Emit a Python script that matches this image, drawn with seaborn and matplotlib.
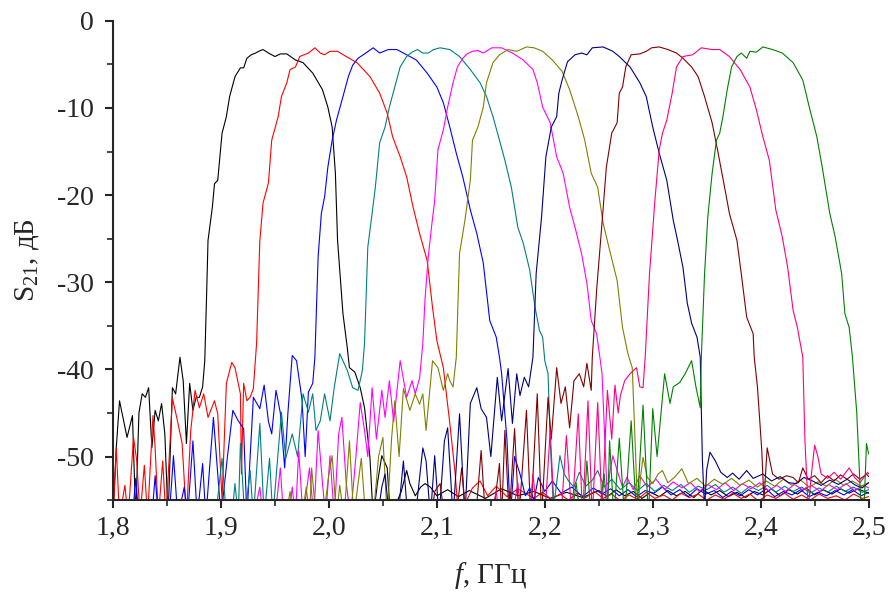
import pandas as pd
import matplotlib
matplotlib.use("Agg")
import matplotlib.pyplot as plt
import seaborn as sns
from matplotlib.ticker import MultipleLocator

# Measured S21 curves of ten tunable filter states (f in GHz, S21 in dB)
black_f = [1.800, 1.803, 1.806, 1.810, 1.813, 1.818, 1.821, 1.824, 1.827, 1.830, 1.833, 1.836, 1.839,
           1.842, 1.845, 1.848, 1.851, 1.855, 1.858, 1.862, 1.865, 1.868, 1.871, 1.874, 1.877, 1.880,
           1.883, 1.885, 1.887, 1.888, 1.892, 1.894, 1.897, 1.901, 1.905, 1.908, 1.913, 1.918, 1.921,
           1.924, 1.928, 1.932, 1.935, 1.939, 1.944, 1.950, 1.955, 1.961, 1.969, 1.976, 1.985, 1.994,
           1.999, 2.003, 2.006, 2.008, 2.013, 2.017, 2.019, 2.024, 2.029, 2.033, 2.038, 2.041, 2.045,
           2.049, 2.054, 2.057, 2.062, 2.067, 2.072, 2.075, 2.080, 2.085, 2.089, 2.094, 2.100, 2.110,
           2.120, 2.130, 2.145, 2.160, 2.175, 2.190, 2.205, 2.220, 2.235,
           2.250, 2.258, 2.266, 2.274, 2.282, 2.290, 2.298, 2.306, 2.314, 2.322, 2.330, 2.338, 2.346,
           2.354, 2.362, 2.370, 2.378, 2.386, 2.394, 2.402, 2.410, 2.418, 2.426, 2.434, 2.442, 2.450,
           2.458, 2.466, 2.474, 2.482, 2.490, 2.500]
black_db = [-57, -49, -43.6, -46, -47.8, -45.3, -57, -45, -42.8, -43.2, -42.1, -49, -44.7,
            -45.9, -43.9, -47.4, -57, -42.1, -42.8, -38.6, -41.3, -48.5, -41.6, -44.7, -43.2, -43.2,
            -42, -39, -30, -25.2, -21.4, -18.7, -18.3, -12.9, -11, -8.7, -6.4, -5.4, -5.4,
            -4.3, -3.9, -3.7, -3.5, -3.3, -3.7, -4.1, -3.8, -3.8, -4.5, -4.8, -6.0, -7.9,
            -9.9, -12.2, -17.5, -25.2, -33.6, -37.5, -39.8, -40.3, -42.1, -44.4, -50.1, -57, -53,
            -49.9, -51.3, -57, -55.5, -54, -51.6, -53.1, -54.5, -53.5, -53.1, -53.5, -54.5, -53.8,
            -54.6, -53.9, -54.8, -53.7, -54.5, -54.0, -54.8, -54.1, -54.7,
            -53.9, -54.6, -53.8, -54.5, -54.0, -54.8, -54.1, -54.6, -53.9, -54.5, -54.0, -54.7, -53.8,
            -54.4, -53.9, -54.6, -54.1, -54.7, -54.0, -54.4, -53.7, -54.5, -53.8, -54.3, -53.6, -54.4,
            -53.8, -54.3, -53.7, -54.2, -53.7, -54.2]

red_f = [1.800, 1.803, 1.806, 1.811, 1.814, 1.819, 1.822, 1.825, 1.829, 1.832, 1.837, 1.839, 1.842,
         1.846, 1.849, 1.855, 1.859, 1.864, 1.868, 1.872, 1.876, 1.880, 1.884, 1.888, 1.894, 1.897,
         1.901, 1.905, 1.910, 1.913, 1.918, 1.919, 1.921, 1.924, 1.927, 1.930, 1.933, 1.936, 1.939,
         1.944, 1.947, 1.953, 1.956, 1.961, 1.964, 1.969, 1.973, 1.977, 1.981, 1.987, 1.992, 1.996,
         2.001, 2.008, 2.016, 2.026, 2.038, 2.047, 2.054, 2.059, 2.066, 2.072, 2.078, 2.084, 2.091,
         2.096, 2.100, 2.106, 2.112, 2.117, 2.120, 2.126, 2.133, 2.140, 2.147, 2.155, 2.165, 2.175,
         2.190, 2.198, 2.206, 2.214, 2.222, 2.230, 2.238, 2.246, 2.254, 2.262, 2.270, 2.278, 2.286,
         2.294, 2.302, 2.310, 2.318, 2.326, 2.334, 2.342, 2.350, 2.358, 2.366, 2.374, 2.382, 2.390,
         2.398, 2.406, 2.414, 2.422, 2.430, 2.438, 2.446, 2.454, 2.462, 2.470, 2.478, 2.486, 2.494, 2.500]
red_db = [-57, -49, -57, -53.3, -57, -47.8, -50.5, -57, -51, -57, -45.3, -49, -57,
          -50.5, -57, -43.3, -45.5, -48.5, -57, -47, -42.4, -44.4, -42.8, -45.5, -43.6, -45.1,
          -55, -41.6, -39.2, -39.8, -42.8, -52, -41.6, -43.6, -43.2, -42.2, -37, -25.2, -20.9,
          -18.6, -13.7, -11, -8.7, -7.1, -5.6, -5.3, -4.1, -3.9, -3.7, -3.1, -3.7, -3.9,
          -3.5, -3.5, -4.1, -4.8, -6.4, -8.3, -10.6, -13.3, -15.6, -17.9, -21.4, -24.4, -27.5,
          -32.9, -36.7, -39.8, -46.2, -52, -57, -55.5, -53.6, -52.8, -54.5, -53.4, -54.6, -53.7,
          -54.8, -54.1, -54.9, -54.3, -55.0, -54.2, -54.7, -54.0, -54.8, -54.3, -55.1, -54.4, -54.9,
          -54.1, -54.8, -54.4, -55.0, -54.2, -54.7, -54.3, -55.0, -54.4, -54.9, -54.2, -54.8, -54.3,
          -55.1, -54.4, -54.8, -54.2, -54.9, -54.4, -55.0, -54.3, -54.8, -54.5, -55.0, -54.3, -54.8, -54.6]

blue_f = [1.800, 1.818, 1.821, 1.824, 1.836, 1.839, 1.842, 1.852, 1.856, 1.860, 1.866, 1.869, 1.874,
          1.878, 1.883, 1.886, 1.893, 1.897, 1.900, 1.906, 1.911, 1.916, 1.921, 1.924, 1.930, 1.936,
          1.940, 1.944, 1.947, 1.951, 1.955, 1.959, 1.962, 1.966, 1.970, 1.975, 1.978, 1.981, 1.985,
          1.987, 1.990, 1.993, 1.996, 1.999, 2.003, 2.007, 2.013, 2.018, 2.022, 2.027, 2.033, 2.041,
          2.047, 2.055, 2.063, 2.072, 2.081, 2.091, 2.100, 2.106, 2.112, 2.118, 2.124, 2.131, 2.137,
          2.143, 2.149, 2.155, 2.158, 2.160, 2.165, 2.168, 2.172, 2.177, 2.182, 2.186, 2.190, 2.194,
          2.200, 2.207, 2.215, 2.225, 2.235,
          2.245, 2.253, 2.261, 2.269, 2.277, 2.285, 2.293, 2.301, 2.309, 2.317, 2.325, 2.333, 2.341,
          2.349, 2.357, 2.365, 2.373, 2.381, 2.389, 2.397, 2.405, 2.413, 2.421, 2.429, 2.437, 2.445,
          2.453, 2.461, 2.469, 2.477, 2.485, 2.493, 2.500]
blue_db = [-57, -57, -52.5, -57, -57, -52.2, -57, -57, -49.9, -57, -53.5, -57, -48.2,
           -57, -50.8, -57, -45.5, -52, -57, -50, -44.7, -45.9, -46.8, -57, -43.2, -44.5,
           -41.8, -46, -47.4, -42.4, -45, -51.3, -45, -38.4, -39, -43.4, -50, -42.6, -41.6,
           -38.6, -27.1, -22.1, -20.2, -16.8, -13.7, -11.4, -8.7, -6.4, -5.1, -4.3, -3.8, -3.1,
           -3.7, -3.3, -3.3, -3.9, -4.5, -6.0, -7.6, -9.4, -12.2, -15.2, -17.9, -21.7, -24.4,
           -27.8, -34.4, -36.3, -38.6, -40.5, -48.2, -57, -50, -52, -54.5, -53.6, -55, -52.4,
           -54, -52.8, -54.2, -53.5, -54.6,
           -53.6, -54.3, -53.7, -54.5, -53.8, -54.6, -53.9, -54.2, -53.5, -54.4, -53.8, -54.6, -53.7,
           -54.3, -53.9, -54.7, -54.0, -54.5, -53.8, -54.4, -53.7, -54.6, -54.0, -54.4, -53.8, -54.6,
           -54.1, -54.5, -53.9, -54.4, -53.8, -54.5, -54.1]

teal_f = [1.800, 1.895, 1.901, 1.905, 1.910, 1.913, 1.916, 1.918, 1.922, 1.927, 1.930, 1.936, 1.940,
          1.945, 1.948, 1.956, 1.960, 1.966, 1.971, 1.976, 1.981, 1.985, 1.988, 1.992, 1.996, 2.001,
          2.005, 2.010, 2.017, 2.022, 2.027, 2.031, 2.033, 2.036, 2.040, 2.043, 2.047, 2.052, 2.056,
          2.061, 2.066, 2.072, 2.077, 2.082, 2.087, 2.092, 2.097, 2.103, 2.112, 2.121, 2.131, 2.140,
          2.146, 2.152, 2.158, 2.163, 2.169, 2.175, 2.180, 2.186, 2.191, 2.195, 2.198, 2.200, 2.203,
          2.205, 2.208, 2.211, 2.214, 2.218, 2.222, 2.227, 2.232, 2.238, 2.244, 2.249, 2.255,
          2.262, 2.270, 2.278, 2.286, 2.294, 2.302, 2.310, 2.318, 2.326, 2.334, 2.342, 2.350, 2.358,
          2.366, 2.374, 2.382, 2.390, 2.398, 2.406, 2.414, 2.422, 2.430, 2.438, 2.446, 2.454, 2.462,
          2.470, 2.478, 2.486, 2.494, 2.500]
teal_db = [-57, -57, -50.2, -57, -57, -53.1, -57, -48.5, -57, -51.6, -57, -46.2, -57,
           -50.2, -57, -44.9, -50.2, -47.4, -50, -42.8, -44.9, -42.8, -47, -45.9, -42.8, -45.9,
           -42, -38.2, -40.1, -42.1, -42.4, -40.1, -37, -26, -22.1, -19.1, -14, -12.2, -9.9,
           -7.6, -5.3, -4.1, -3.6, -3.3, -3.7, -3.7, -3.3, -3.1, -3.3, -4.1, -5.6, -7.1,
           -8.7, -11, -13.7, -16, -19.1, -23.7, -25.5, -28.6, -32.9, -35.5, -36.3, -39, -40.5,
           -48.2, -56, -53, -49.9, -52, -52.8, -53.5, -51.8, -53.4, -52.7, -51.6, -53.5,
           -52.6, -53.8, -53.0, -53.9, -53.1, -54.0, -53.3, -53.9, -53.2, -54.1, -53.4, -53.8, -53.2,
           -54.1, -53.5, -54.2, -53.4, -53.9, -53.3, -54.1, -53.4, -54.0, -53.5, -54.2, -53.6, -54.1,
           -53.4, -54.0, -53.5, -54.1, -53.8]

magenta_f = [1.800, 1.930, 1.936, 1.939, 1.950, 1.955, 1.958, 1.963, 1.966, 1.969, 1.972, 1.976, 1.982,
             1.986, 1.990, 1.994, 1.997, 2.001, 2.005, 2.009, 2.012, 2.016, 2.020, 2.025, 2.029, 2.033,
             2.036, 2.040, 2.044, 2.049, 2.052, 2.056, 2.060, 2.066, 2.072, 2.077, 2.080, 2.084, 2.087,
             2.089, 2.092, 2.095, 2.098, 2.101, 2.106, 2.110, 2.115, 2.119, 2.124, 2.128, 2.133, 2.138,
             2.143, 2.151, 2.160, 2.170, 2.180, 2.189, 2.193, 2.198, 2.205, 2.211, 2.217, 2.223, 2.228,
             2.234, 2.239, 2.243, 2.248, 2.251, 2.253, 2.256, 2.258, 2.260, 2.263, 2.268, 2.272, 2.276,
             2.282, 2.288, 2.295,
             2.303, 2.311, 2.319, 2.327, 2.335, 2.343, 2.351, 2.359, 2.367, 2.375, 2.383, 2.391, 2.399,
             2.407, 2.415, 2.423, 2.431, 2.439, 2.447, 2.455, 2.463, 2.471, 2.479, 2.487, 2.495, 2.500]
magenta_db = [-57, -57, -53.5, -57, -57, -51.3, -57, -57, -53.5, -57, -49.3, -57, -51.3,
              -57, -47, -53, -57, -49.9, -57, -47.4, -45.5, -53, -57, -50, -43.8, -47,
              -50, -42.1, -48, -42.4, -45.5, -41.3, -46, -39, -43.2, -41.3, -42.8, -41, -37,
              -32, -27.1, -23.7, -20.6, -14.8, -12.5, -9.9, -7.1, -5.3, -4.3, -3.8, -3.5, -3.4,
              -3.7, -3.1, -3.1, -3.7, -4.5, -5.6, -7.1, -9.9, -11.7, -15.6, -17.5, -21.4, -23.7,
              -26.7, -30.1, -34.4, -35.9, -38.6, -40.5, -49.3, -55, -52, -49.9, -52, -53.5, -52.4,
              -53.8, -52.2, -53.5,
              -52.6, -53.8, -52.9, -53.6, -53.0, -54.0, -53.2, -53.8, -53.0, -53.9, -53.1, -53.7, -53.0,
              -53.9, -53.3, -54.0, -53.2, -53.8, -53.3, -54.0, -53.2, -53.8, -53.1, -53.9, -53.3, -53.6]

olive_f = [1.800, 1.960, 1.964, 1.967, 1.975, 1.979, 1.982, 1.984, 1.988, 1.995, 2.000, 2.003, 2.007,
           2.010, 2.014, 2.019, 2.023, 2.030, 2.034, 2.041, 2.046, 2.050, 2.054, 2.058, 2.061, 2.065,
           2.069, 2.075, 2.080, 2.084, 2.087, 2.090, 2.096, 2.101, 2.106, 2.110, 2.112, 2.115, 2.118,
           2.121, 2.126, 2.131, 2.133, 2.138, 2.143, 2.146, 2.152, 2.158, 2.166, 2.174, 2.183, 2.190,
           2.198, 2.207, 2.216, 2.223, 2.231, 2.237, 2.243, 2.249, 2.254, 2.260, 2.267, 2.272, 2.277,
           2.281, 2.283, 2.286, 2.289, 2.291, 2.295, 2.300, 2.305, 2.309, 2.314, 2.320, 2.327,
           2.333, 2.341, 2.349, 2.357, 2.365, 2.373, 2.381, 2.389, 2.397, 2.405, 2.413, 2.421, 2.429,
           2.437, 2.445, 2.453, 2.461, 2.469, 2.477, 2.485, 2.493, 2.500]
olive_db = [-57, -57, -54, -57, -57, -53.5, -57, -51.3, -57, -57, -52, -49.9, -57,
            -53.3, -57, -48.2, -57, -50.2, -57, -57, -50, -47.8, -57, -48, -43.6, -50,
            -42.2, -44.7, -42.8, -44, -42.8, -47, -39, -39.8, -42.4, -40.5, -41.3, -42, -38.6,
            -26.7, -22.9, -18.3, -13.7, -12.2, -9.9, -7.1, -4.8, -3.9, -3.3, -3.5, -3.0, -3.1,
            -3.5, -4.5, -5.8, -7.9, -11, -13.7, -17.5, -19.1, -23.2, -26.3, -29.8, -35.2, -38.2,
            -39.8, -46.2, -56, -52, -50.1, -52.4, -53.1, -52, -51.6, -53, -52.4, -51.4,
            -53.1, -52.5, -53.4, -52.6, -53.2, -52.5, -53.3, -52.7, -53.5, -52.8, -53.4, -52.6, -53.3,
            -52.7, -53.5, -52.9, -53.4, -52.6, -53.3, -52.8, -53.4, -53.0]

navy_f = [1.800, 2.045, 2.049, 2.052, 2.056, 2.064, 2.069, 2.073, 2.080, 2.087, 2.090, 2.094, 2.098,
          2.102, 2.107, 2.110, 2.115, 2.121, 2.126, 2.131, 2.137, 2.141, 2.146, 2.150, 2.156, 2.160,
          2.166, 2.170, 2.174, 2.177, 2.181, 2.185, 2.189, 2.192, 2.197, 2.201, 2.206, 2.211, 2.213,
          2.216, 2.221, 2.228, 2.234, 2.239, 2.244, 2.254, 2.263, 2.269, 2.279, 2.288, 2.294, 2.300,
          2.306, 2.313, 2.319, 2.323, 2.328, 2.332, 2.336, 2.341, 2.344, 2.346, 2.348, 2.350, 2.353,
          2.358, 2.363, 2.369, 2.374, 2.380, 2.387, 2.393, 2.402, 2.410, 2.418, 2.426, 2.433, 2.440,
          2.448, 2.456, 2.464, 2.472, 2.480, 2.488, 2.494, 2.500]
navy_db = [-57, -57, -53.5, -52, -57, -57, -50.5, -57, -57, -49, -50.5, -57, -49.9,
           -57, -48.2, -46.7, -57, -45.1, -57, -43.9, -42.1, -44.5, -45.5, -50, -40.9, -45.9,
           -39.9, -46.2, -40.5, -43, -40.9, -42, -38.6, -29, -22.5, -15.6, -12.2, -11, -8.3,
           -6.8, -4.7, -3.9, -3.7, -3.9, -3.1, -3.0, -3.5, -4.1, -5.3, -7.1, -8.7, -12.2,
           -15.2, -18.3, -22.9, -25.2, -28.3, -32.4, -34.7, -36.3, -38.6, -50.5, -56, -51.5, -49.5,
           -50.5, -51.8, -52.4, -51.9, -52.6, -51.6, -52.5, -52, -52.8, -52.3, -53.0, -53.1, -52.4,
           -52.8, -53.3, -52.7, -53.2, -52.6, -53.3, -53.6, -53.0]

wine_f = [1.800, 2.095, 2.098, 2.103, 2.107, 2.118, 2.123, 2.127, 2.136, 2.141, 2.145, 2.152, 2.158,
          2.160, 2.163, 2.167, 2.172, 2.176, 2.183, 2.187, 2.193, 2.197, 2.203, 2.206, 2.211, 2.215,
          2.219, 2.223, 2.227, 2.232, 2.236, 2.239, 2.243, 2.244, 2.248, 2.253, 2.257, 2.262, 2.267,
          2.269, 2.272, 2.275, 2.280, 2.288, 2.294, 2.299, 2.306, 2.314, 2.322, 2.328, 2.336, 2.342,
          2.348, 2.355, 2.360, 2.367, 2.371, 2.378, 2.382, 2.387, 2.393, 2.394, 2.397, 2.401, 2.403,
          2.406, 2.411, 2.417, 2.424, 2.430, 2.435, 2.439, 2.444, 2.450, 2.456, 2.462, 2.468, 2.474,
          2.480, 2.486, 2.492, 2.498, 2.500]
wine_db = [-57, -57, -54, -53.1, -57, -57, -51.3, -57, -57, -49.3, -57, -57, -50.8,
           -57, -47, -57, -46.8, -57, -44.7, -57, -42.8, -57, -43.2, -48, -39.8, -43.9,
           -42, -46.7, -41.3, -40.5, -42, -39.3, -42.4, -38.6, -30.9, -23.2, -16.8, -12.9, -11.7,
           -8.3, -7.6, -5.3, -3.9, -3.8, -3.5, -3.1, -3.0, -3.3, -3.7, -4.3, -5.3, -6.4,
           -8.7, -11.7, -14.8, -19.4, -22.1, -25.2, -29, -34, -35.9, -38.6, -42, -49.3, -55,
           -49, -52, -52.6, -52.2, -52.4, -53, -51.3, -52.6, -52.2, -53, -52.2, -52.8, -52.1,
           -52.6, -52.0, -52.6, -52.0, -52.3]

pink_f = [1.800, 2.150, 2.155, 2.158, 2.170, 2.175, 2.178, 2.186, 2.189, 2.193, 2.200, 2.205, 2.209,
          2.215, 2.220, 2.225, 2.231, 2.235, 2.240, 2.244, 2.249, 2.253, 2.258, 2.262, 2.265, 2.268,
          2.270, 2.274, 2.279, 2.285, 2.288, 2.291, 2.293, 2.297, 2.302, 2.306, 2.309, 2.313, 2.318,
          2.322, 2.328, 2.337, 2.345, 2.355, 2.362, 2.371, 2.381, 2.390, 2.396, 2.402, 2.408, 2.414,
          2.420, 2.425, 2.430, 2.434, 2.439, 2.441, 2.444, 2.447, 2.450, 2.453, 2.456, 2.462, 2.468,
          2.474, 2.482, 2.487, 2.492, 2.499, 2.500]
pink_db = [-57, -57, -54, -57, -57, -53, -57, -57, -52, -57, -57, -47, -57,
           -57, -47.6, -57, -45.1, -57, -43.6, -57, -43.8, -56, -42.4, -48, -41.8, -45,
           -43, -41.3, -40.5, -39.8, -42, -42.1, -38.6, -29, -20.6, -14.8, -12.9, -11.4, -8.3,
           -5.3, -4.1, -3.9, -3.1, -3.3, -3.3, -4.1, -5.6, -7.6, -10.2, -13.3, -16, -21.7,
           -24.8, -28.3, -33.2, -35.2, -38.6, -48.2, -56, -52, -48.7, -50, -52, -52.5, -51.8,
           -52.6, -51.3, -52.4, -53, -51.8, -52]

green_f = [1.800, 2.225, 2.229, 2.233, 2.236, 2.239, 2.243, 2.250, 2.255, 2.258, 2.260, 2.264, 2.269,
           2.274, 2.280, 2.285, 2.291, 2.296, 2.300, 2.304, 2.311, 2.316, 2.319, 2.325, 2.330, 2.336,
           2.340, 2.344, 2.345, 2.348, 2.351, 2.355, 2.359, 2.362, 2.365, 2.369, 2.373, 2.378, 2.382,
           2.387, 2.390, 2.396, 2.402, 2.411, 2.420, 2.430, 2.439, 2.445, 2.452, 2.457, 2.464, 2.469,
           2.475, 2.478, 2.482, 2.485, 2.489, 2.493, 2.496, 2.498, 2.500]
green_db = [-57, -57, -53, -57, -57, -50.5, -57, -57, -52, -57, -48.2, -57, -47.9,
            -57, -45.9, -57, -44.1, -57, -44.5, -50, -40.5, -43.9, -42, -41.5, -40.5, -39,
            -42, -44.4, -38.6, -29, -22.5, -17.5, -13.7, -12.9, -11, -7.9, -5.3, -4.1, -3.7,
            -4.3, -3.5, -3.6, -3.0, -3.3, -3.7, -4.8, -6.8, -9.9, -13.3, -16.8, -22.1, -24.8,
            -29, -33.6, -35.2, -38.6, -45, -56, -55, -48.5, -49.7]

curve_names = ["black", "red", "blue", "teal", "magenta", "olive", "navy", "wine", "pink", "green"]
curve_colors = ["#000000", "#FF0000", "#0000FF", "#008080", "#FF00FF",
                "#808000", "#000080", "#800000", "#FF0080", "#008000"]
x_ticks = [1.8, 1.9, 2.0, 2.1, 2.2, 2.3, 2.4, 2.5]
x_tick_labels = ["1,8", "1,9", "2,0", "2,1", "2,2", "2,3", "2,4", "2,5"]
y_ticks = [0, -10, -20, -30, -40, -50]


def build_frame():
    series = [(black_f, black_db), (red_f, red_db), (blue_f, blue_db), (teal_f, teal_db),
              (magenta_f, magenta_db), (olive_f, olive_db), (navy_f, navy_db),
              (wine_f, wine_db), (pink_f, pink_db), (green_f, green_db)]
    parts = []
    for name, (f, db) in zip(curve_names, series):
        assert len(f) == len(db), name
        parts.append(pd.DataFrame({"f": f, "s21": db, "curve": name}))
    return pd.concat(parts, ignore_index=True)


def main():
    sns.set_style("ticks")
    plt.rcParams["font.family"] = ["Liberation Serif", "DejaVu Serif"]
    plt.rcParams["mathtext.fontset"] = "custom"
    plt.rcParams["mathtext.rm"] = "Liberation Serif"
    plt.rcParams["mathtext.it"] = "Liberation Serif:italic"
    plt.rcParams["axes.unicode_minus"] = False

    df = build_frame()

    fig = plt.figure(figsize=(8.9, 5.94), dpi=100)
    ax = fig.add_axes([0.127, 0.158, 0.849, 0.807])
    sns.lineplot(data=df, x="f", y="s21", hue="curve", hue_order=curve_names,
                 palette=curve_colors, estimator=None, sort=False, legend=False,
                 linewidth=0.8, ax=ax)

    ax.set_xlim(1.8, 2.5)
    ax.set_ylim(-55, 0)
    ax.set_xticks(x_ticks)
    ax.set_xticklabels(x_tick_labels)
    ax.set_yticks(y_ticks)
    ax.xaxis.set_minor_locator(MultipleLocator(0.05))
    ax.yaxis.set_minor_locator(MultipleLocator(5))
    ax.tick_params(which="major", direction="out", length=6, width=1.5, labelsize=20)
    ax.tick_params(axis="x", which="major", pad=5)
    ax.tick_params(axis="y", which="major", pad=8)
    ax.tick_params(which="minor", direction="out", length=4, width=1.2)
    for side in ["left", "bottom"]:
        ax.spines[side].set_linewidth(1.5)
    sns.despine(ax=ax)

    ax.set_xlabel(r"$\mathit{f}$, ГГц", fontsize=21)
    ax.set_ylabel(r"S$_\mathregular{21}$, дБ", fontsize=21)
    ax.xaxis.set_label_coords(0.5, -0.125)
    ax.yaxis.set_label_coords(-0.095, 0.5)

    fig.savefig("out.png", dpi=100)
    plt.close(fig)


if __name__ == "__main__":
    main()
